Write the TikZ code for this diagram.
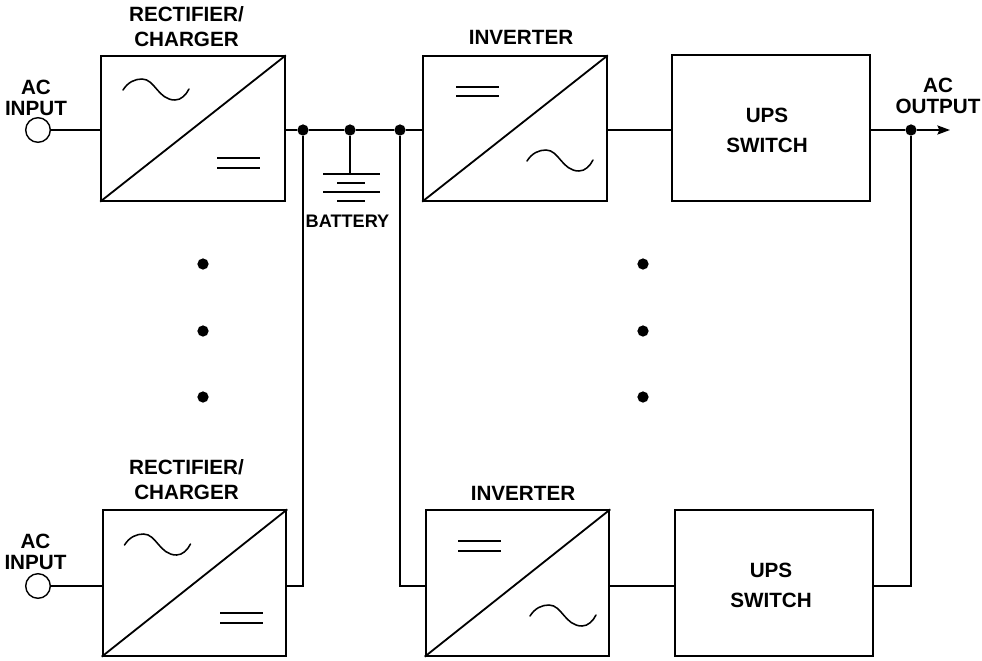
\documentclass[tikz,border=0pt]{standalone}
\usepackage{fontspec}
\setmainfont{Liberation Sans}
\usetikzlibrary{arrows.meta}

\tikzset{
  blockbox/.style={draw, line width=1.3pt, inner sep=0pt},
  wire/.style={line width=1.3pt},
  plate/.style={line width=1.2pt},
  wave/.style={line width=1.1pt, line cap=round},
  junction/.style={circle, fill=black, inner sep=0pt, minimum size=8pt},
  contdot/.style={circle, fill=black, inner sep=0pt, minimum size=8pt},
  port/.style={draw, circle, line width=1pt, inner sep=0pt, minimum size=17.5pt},
  tag/.style={font=\bfseries\fontsize{14.7}{15}\selectfont, align=center, inner sep=0pt},
  smalltag/.style={font=\bfseries\fontsize{12.9}{15}\selectfont, inner sep=0pt},
}

\begin{document}
\begin{tikzpicture}[x=0.25mm, y=-0.25mm, >={Stealth[length=9pt,width=6.5pt,inset=1.5pt]}]
\useasboundingbox (0,0) rectangle (982,660);

% top row of blocks
\node[blockbox, minimum width=130.7pt, minimum height=102.8pt] (rectA) at (193,128.5) {};
\node[blockbox, minimum width=130.7pt, minimum height=102.8pt] (invA) at (515,128.5) {};
\node[blockbox, minimum width=140.4pt, minimum height=103.5pt] (upsA) at (771,128) {};
\node[tag] (upsAtag) at (767,130) {UPS\\[6.3pt]SWITCH};

% bottom row of blocks
\node[blockbox, minimum width=130.7pt, minimum height=103.5pt] (rectB) at (194.5,583) {};
\node[blockbox, minimum width=130.7pt, minimum height=103.5pt] (invB) at (517.5,583) {};
\node[blockbox, minimum width=140.4pt, minimum height=103.5pt] (upsB) at (774,583) {};
\node[tag] (upsBtag) at (771,585.5) {UPS\\[6.3pt]SWITCH};

% diagonals of the converters
\foreach \b in {rectA,invA,rectB,invB}
  \draw[wire] (\b.south west) -- (\b.north east);

% block titles
\node[tag] (rectAtag) at (186.5,27) {RECTIFIER/\\[2.7pt]CHARGER};
\node[tag] (invAtag) at (521,37) {INVERTER};
\node[tag] (rectBtag) at (186.5,480) {RECTIFIER/\\[2.7pt]CHARGER};
\node[tag] (invBtag) at (523,493) {INVERTER};

% AC inputs
\node[port] (inA) at (38,130) {};
\node[port] (inB) at (38,586) {};
\node[tag] (inAtag) at (36,98) {AC\\INPUT};
\node[tag] (inBtag) at (35.5,552) {AC\\INPUT};
\draw[wire] (inA) -- (rectA.west |- inA);
\draw[wire] (inB) -- (rectB.west |- inB);

% dc bus with its junctions
\node[junction] (junRect) at (303,130) {};
\node[junction] (junBat) at (350,130) {};
\node[junction] (junInv) at (400,130) {};
\draw[wire] (rectA.east |- junRect) -- (junRect) -- (junBat) -- (junInv) -- (invA.west |- junInv);
\draw[wire] (junRect) |- (rectB.east |- inB);
\draw[wire] (junInv) |- (invB.west |- inB);

% battery
\coordinate (batTop) at (350,174);
\draw[plate] (junBat) -- (batTop);
\draw[plate] (323,174) -- (380,174);
\draw[plate] (337,183) -- (365,183);
\draw[plate] (323,192) -- (380,192);
\draw[plate] (337,201) -- (365,201);
\node[smalltag] (batTag) at (347.5,221) {BATTERY};

% output side
\node[junction] (junOut) at (911,130) {};
\coordinate (outEnd) at (950,130);
\draw[wire] (invA.east |- junOut) -- (upsA.west |- junOut);
\draw[wire] (upsA.east |- junOut) -- (junOut);
\draw[wire,->] (junOut) -- (outEnd);
\draw[wire] (invB.east |- inB) -- (upsB.west |- inB);
\draw[wire] (upsB.east |- inB) -| (junOut);
\node[tag] (outTag) at (938,96) {AC\\OUTPUT};

% ac and dc symbols
\foreach \p in {(123,90),(124.5,545),(527,161),(530,616)}
  \draw[wave, shift={\p}] (0,0) .. controls (5,-8) and (12,-11) .. (19,-11)
    .. controls (32,-11) and (35,10) .. (52,10) .. controls (58,10) and (63,5) .. (66,-1);
\foreach \x/\y in {217/158,217/168,220/613,220/623,456/87,456/96,458/541,458/551}
  \draw[plate] (\x,\y) -- ++(43,0);

% continuation dots
\foreach \x in {203,643}
  \foreach \y in {264,331,397}
    \node[contdot] (dot\x-\y) at (\x,\y) {};

\end{tikzpicture}
\end{document}
